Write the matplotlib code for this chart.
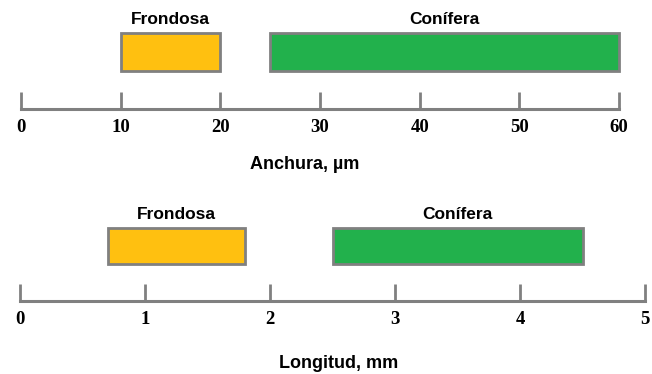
import matplotlib
matplotlib.use("Agg")
import matplotlib.pyplot as plt

# ranges
groups = ["Frondosa", "Conífera"]
width_lo = [10, 25]      # Anchura, µm
width_hi = [20, 60]
length_lo = [0.7, 2.5]   # Longitud, mm
length_hi = [1.8, 4.5]
width_ticks = [0, 10, 20, 30, 40, 50, 60]
length_ticks = [0, 1, 2, 3, 4, 5]
colors = ["#ffc010", "#22b14c"]

W, H = 652, 374
fig = plt.figure(figsize=(W / 100, H / 100), dpi=100)
gray = "#808080"


def panel(bottom_px, x0_px, scale, lo, hi, ticks, bar_y, bar_h, axis_y, label, label_x, label_y):
    ax = fig.add_axes([0, 1 - (bottom_px + 187) / H, 1, 187 / H])
    ax.set_xlim(-x0_px / scale, (W - x0_px) / scale)
    ax.set_ylim(187, 0)
    for name, a, b, c in zip(groups, lo, hi, colors):
        ax.barh(bar_y, b - a, left=a, height=bar_h, color=c,
                edgecolor=gray, linewidth=2)
        ax.text((a + b) / 2, bar_y - bar_h / 2 - 14, name, ha="center", va="center",
                fontsize=12.5, fontweight="bold", family="Liberation Sans")
    for s in ["top", "left", "right"]:
        ax.spines[s].set_visible(False)
    ax.spines["bottom"].set_position(("data", axis_y))
    ax.spines["bottom"].set_bounds(ticks[0], ticks[-1])
    ax.spines["bottom"].set_color(gray)
    ax.spines["bottom"].set_linewidth(2.2)
    ax.set_yticks([])
    ax.set_xticks(ticks)
    ax.set_xticklabels([str(t) for t in ticks], family="Liberation Serif",
                       fontweight="bold", fontsize=13.5)
    ax.tick_params(axis="x", direction="in", length=12.5, width=2, color=gray, pad=7)
    ax.text(label_x, label_y, label, ha="center", va="center",
            fontsize=13, fontweight="bold", family="Liberation Sans")
    ax.patch.set_alpha(0)


panel(0, 21, 9.967, width_lo, width_hi, width_ticks, 52, 38, 109,
      "Anchura, µm", 28.5, 165)
panel(187, 20, 125, length_lo, length_hi, length_ticks, 59, 36, 114,
      "Longitud, mm", 2.55, 176)

fig.savefig("out.png", dpi=100)
